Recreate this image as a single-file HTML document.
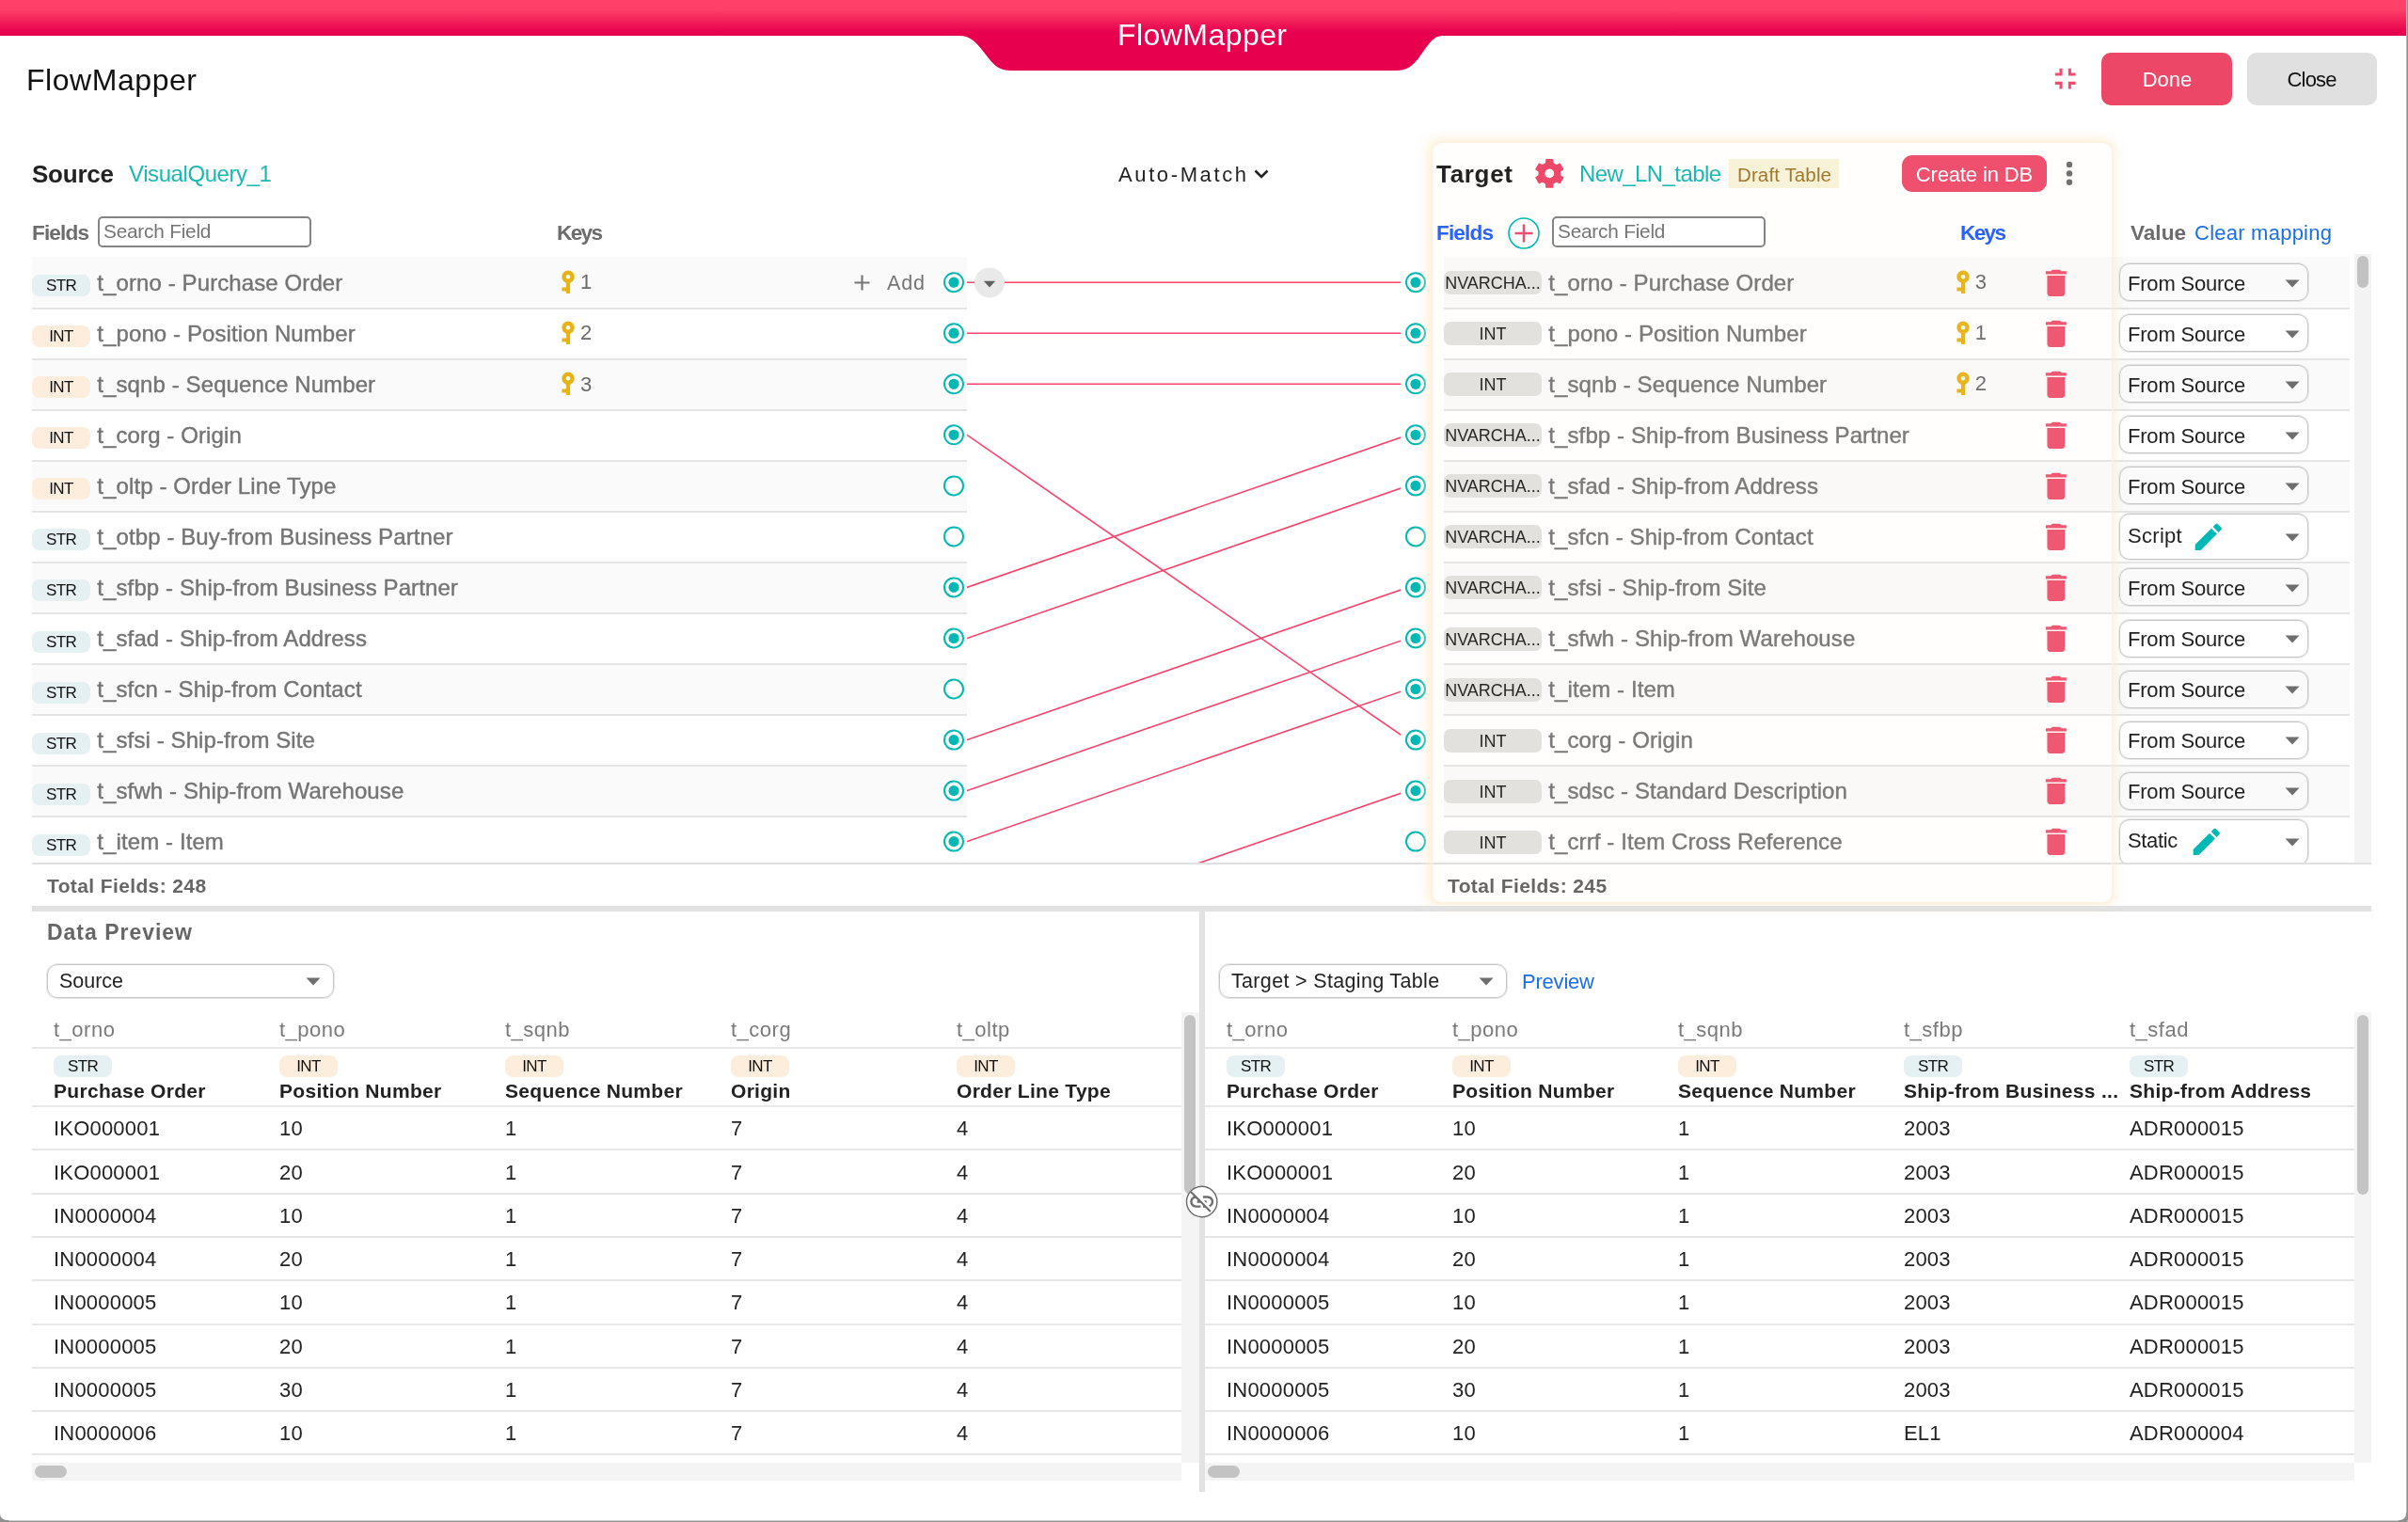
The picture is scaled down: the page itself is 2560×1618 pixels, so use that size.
<!DOCTYPE html>
<html lang="en"><head><meta charset="utf-8"><title>FlowMapper</title>
<style>
html,body{margin:0;padding:0;background:#fff;}
body{width:2560px;height:1618px;position:relative;overflow:hidden;font-family:"Liberation Sans",Arial,sans-serif;color:#222;}
div,svg,span{position:absolute;white-space:nowrap;box-sizing:border-box;}
.bg{font-size:17px;line-height:23px;height:23px;border-radius:8px;text-align:center;color:#111;letter-spacing:-.6px;}
.str{background:#e4f0f2;}
.int{background:#fdeddd;}
.tb{background:#e2e1e0;font-size:18px;line-height:27.5px;height:25px;width:104px;border-radius:7px;text-align:center;color:#1a1a1a;}
.fn{font-size:24px;line-height:32px;color:#747474;letter-spacing:.1px;-webkit-text-stroke:.4px #747474;}
.kn{font-size:22px;line-height:28px;color:#6a6a6a;}
.sel{border:1px solid #c6c6c6;border-radius:11px;box-shadow:0 0 0 1px rgba(190,190,190,.35);}
.sv{font-size:22px;line-height:28px;color:#222;letter-spacing:-.2px;}
.th{font-size:22px;line-height:28px;color:#7a7a7a;letter-spacing:.5px;}
.tn{font-size:21px;line-height:28px;color:#222;font-weight:700;letter-spacing:.3px;}
.td{font-size:22px;line-height:28px;color:#222;letter-spacing:.2px;}
.hl{height:2px;background:#e6e6e6;}
</style></head><body>
<div id="app" style="left:0;top:0;width:2560px;height:1618px;will-change:transform;">

<div style="left:0px;top:0px;width:2560px;height:38px;background:linear-gradient(#ff4068 0,#ff4068 26%,#e6004d 91%,#e6004d 100%);"></div>
<svg style="left:1000px;top:36px" width="560" height="40" viewBox="1000 36 560 40"><path fill="#e6004d" d="M1012,36 L1012,38 L1019,38 C1033,38 1038,46 1044,53 L1051,62 C1057,69 1062,75 1075,75 L1484,75 C1497,75 1502,69 1508,62 L1515,52 C1520,45 1525,38 1534,38 L1545,38 L1545,36 Z"/></svg>
<div style="left:1188.0px;top:15.8px;font-size:32px;line-height:42px;color:#fff;letter-spacing:0.44px;">FlowMapper</div>
<div style="left:28.0px;top:64.0px;font-size:32px;line-height:42px;color:#111;letter-spacing:0.55px;">FlowMapper</div>
<svg style="left:2177px;top:65.3px" width="37.4" height="37.4" viewBox="0 0 24 24"><path fill="#ef4f6d" d="M5 16h3v3h2v-5H5v2zm3-8H5v2h5V5H8v3zm6 11h2v-3h3v-2h-5v5zm2-11V5h-2v5h5V8h-3z"/></svg>
<div style="left:2234px;top:56px;width:139px;height:56px;background:#ec4767;border-radius:10px;"></div>
<div style="left:2277.7px;top:70.4px;font-size:22px;line-height:29px;color:#fff;letter-spacing:-0.03px;">Done</div>
<div style="left:2389px;top:56px;width:138px;height:56px;background:#e0e0e0;border-radius:10px;"></div>
<div style="left:2431.5px;top:70.4px;font-size:22px;line-height:29px;color:#111;letter-spacing:-0.81px;">Close</div>
<div style="left:34.0px;top:167.9px;font-size:26px;line-height:34px;color:#222;font-weight:700;letter-spacing:-0.23px;">Source</div>
<div style="left:137.0px;top:169.0px;font-size:24px;line-height:31px;color:#1bb7b5;letter-spacing:-0.42px;">VisualQuery_1</div>
<div style="left:34.0px;top:232.7px;font-size:22.6px;line-height:29px;color:#6c6c6c;font-weight:700;letter-spacing:-0.86px;">Fields</div>
<div style="left:104px;top:230px;width:227px;height:33px;background:#fff;border:2px solid #848484;border-radius:5px;"></div>
<div style="left:110.0px;top:232.4px;font-size:20.8px;line-height:27px;color:#757575;letter-spacing:-0.21px;">Search Field</div>
<div style="left:592.0px;top:232.7px;font-size:22.6px;line-height:29px;color:#6c6c6c;font-weight:700;letter-spacing:-1.68px;">Keys</div>
<div style="left:1189.0px;top:171.2px;font-size:22px;line-height:29px;color:#222;letter-spacing:2.61px;">Auto-Match</div>
<svg style="left:1331px;top:176px" width="20" height="18" viewBox="0 0 20 18"><path d="M3.5,5.5 L10,12 L16.5,5.5" fill="none" stroke="#222" stroke-width="2.6"/></svg>
<div id="srclist" style="left:34px;top:273px;width:994px;height:644px;overflow:hidden;">
<div style="left:0px;top:0px;width:994px;height:54px;background:#fafafa;"></div>
<div style="left:0px;top:54px;width:994px;height:2px;background:#e5e5e5;"></div>
<div style="left:0px;top:56px;width:994px;height:52px;background:#fff;"></div>
<div style="left:0px;top:108px;width:994px;height:2px;background:#e5e5e5;"></div>
<div style="left:0px;top:110px;width:994px;height:52px;background:#fafafa;"></div>
<div style="left:0px;top:162px;width:994px;height:2px;background:#e5e5e5;"></div>
<div style="left:0px;top:164px;width:994px;height:52px;background:#fff;"></div>
<div style="left:0px;top:216px;width:994px;height:2px;background:#e5e5e5;"></div>
<div style="left:0px;top:218px;width:994px;height:52px;background:#fafafa;"></div>
<div style="left:0px;top:270px;width:994px;height:2px;background:#e5e5e5;"></div>
<div style="left:0px;top:272px;width:994px;height:52px;background:#fff;"></div>
<div style="left:0px;top:324px;width:994px;height:2px;background:#e5e5e5;"></div>
<div style="left:0px;top:326px;width:994px;height:52px;background:#fafafa;"></div>
<div style="left:0px;top:378px;width:994px;height:2px;background:#e5e5e5;"></div>
<div style="left:0px;top:380px;width:994px;height:52px;background:#fff;"></div>
<div style="left:0px;top:432px;width:994px;height:2px;background:#e5e5e5;"></div>
<div style="left:0px;top:434px;width:994px;height:52px;background:#fafafa;"></div>
<div style="left:0px;top:486px;width:994px;height:2px;background:#e5e5e5;"></div>
<div style="left:0px;top:488px;width:994px;height:52px;background:#fff;"></div>
<div style="left:0px;top:540px;width:994px;height:2px;background:#e5e5e5;"></div>
<div style="left:0px;top:542px;width:994px;height:52px;background:#fafafa;"></div>
<div style="left:0px;top:594px;width:994px;height:2px;background:#e5e5e5;"></div>
<div style="left:0px;top:596px;width:994px;height:52px;background:#fff;"></div>
<div style="left:0px;top:648px;width:994px;height:2px;background:#e5e5e5;"></div>
</div>
<div class="bg str" style="left:34px;top:292.2px;width:62px;">STR</div>
<div class="fn" style="left:103.3px;top:284.6px;">t_orno - Purchase Order</div>
<svg style="left:595.7px;top:286.3px" width="16" height="28" viewBox="0 0 16 28"><circle cx="8" cy="8.2" r="4.5" fill="none" stroke="#e6b417" stroke-width="4.4"/><path fill="#e6b417" d="M5.9,13 h4.2 v13 h-4.2 v-2.4 h-4.5 v-4.1 h4.5 z"/></svg>
<div style="left:617.0px;top:285.4px;font-size:22px;line-height:29px;color:#6a6a6a;">1</div>
<div class="bg int" style="left:34px;top:346.2px;width:62px;">INT</div>
<div class="fn" style="left:103.3px;top:338.6px;">t_pono - Position Number</div>
<svg style="left:595.7px;top:340.3px" width="16" height="28" viewBox="0 0 16 28"><circle cx="8" cy="8.2" r="4.5" fill="none" stroke="#e6b417" stroke-width="4.4"/><path fill="#e6b417" d="M5.9,13 h4.2 v13 h-4.2 v-2.4 h-4.5 v-4.1 h4.5 z"/></svg>
<div style="left:617.0px;top:339.4px;font-size:22px;line-height:29px;color:#6a6a6a;">2</div>
<div class="bg int" style="left:34px;top:400.3px;width:62px;">INT</div>
<div class="fn" style="left:103.3px;top:392.7px;">t_sqnb - Sequence Number</div>
<svg style="left:595.7px;top:394.4px" width="16" height="28" viewBox="0 0 16 28"><circle cx="8" cy="8.2" r="4.5" fill="none" stroke="#e6b417" stroke-width="4.4"/><path fill="#e6b417" d="M5.9,13 h4.2 v13 h-4.2 v-2.4 h-4.5 v-4.1 h4.5 z"/></svg>
<div style="left:617.0px;top:393.5px;font-size:22px;line-height:29px;color:#6a6a6a;">3</div>
<div class="bg int" style="left:34px;top:454.3px;width:62px;">INT</div>
<div class="fn" style="left:103.3px;top:446.7px;">t_corg - Origin</div>
<div class="bg int" style="left:34px;top:508.4px;width:62px;">INT</div>
<div class="fn" style="left:103.3px;top:500.8px;">t_oltp - Order Line Type</div>
<div class="bg str" style="left:34px;top:562.4px;width:62px;">STR</div>
<div class="fn" style="left:103.3px;top:554.8px;">t_otbp - Buy-from Business Partner</div>
<div class="bg str" style="left:34px;top:616.4px;width:62px;">STR</div>
<div class="fn" style="left:103.3px;top:608.8px;">t_sfbp - Ship-from Business Partner</div>
<div class="bg str" style="left:34px;top:670.5px;width:62px;">STR</div>
<div class="fn" style="left:103.3px;top:662.9px;">t_sfad - Ship-from Address</div>
<div class="bg str" style="left:34px;top:724.5px;width:62px;">STR</div>
<div class="fn" style="left:103.3px;top:716.9px;">t_sfcn - Ship-from Contact</div>
<div class="bg str" style="left:34px;top:778.6px;width:62px;">STR</div>
<div class="fn" style="left:103.3px;top:771.0px;">t_sfsi - Ship-from Site</div>
<div class="bg str" style="left:34px;top:832.6px;width:62px;">STR</div>
<div class="fn" style="left:103.3px;top:825.0px;">t_sfwh - Ship-from Warehouse</div>
<div class="bg str" style="left:34px;top:886.6px;width:62px;">STR</div>
<div class="fn" style="left:103.3px;top:879.0px;">t_item - Item</div>
<svg style="left:907px;top:291px" width="19" height="19" viewBox="0 0 19 19"><path d="M9.5,1.5 V17.5 M1.5,9.5 H17.5" stroke="#757575" stroke-width="2.1"/></svg>
<div style="left:943.0px;top:286.8px;font-size:21.5px;line-height:28px;color:#757575;letter-spacing:0.87px;">Add</div>
<div id="tgtlist" style="left:1535px;top:273px;width:963px;height:644px;overflow:hidden;">
<div style="left:0px;top:0px;width:963px;height:54px;background:#fafafa;"></div>
<div style="left:0px;top:54px;width:963px;height:2px;background:#e5e5e5;"></div>
<div style="left:0px;top:56px;width:963px;height:52px;background:#fff;"></div>
<div style="left:0px;top:108px;width:963px;height:2px;background:#e5e5e5;"></div>
<div style="left:0px;top:110px;width:963px;height:52px;background:#fafafa;"></div>
<div style="left:0px;top:162px;width:963px;height:2px;background:#e5e5e5;"></div>
<div style="left:0px;top:164px;width:963px;height:52px;background:#fff;"></div>
<div style="left:0px;top:216px;width:963px;height:2px;background:#e5e5e5;"></div>
<div style="left:0px;top:218px;width:963px;height:52px;background:#fafafa;"></div>
<div style="left:0px;top:270px;width:963px;height:2px;background:#e5e5e5;"></div>
<div style="left:0px;top:272px;width:963px;height:52px;background:#fff;"></div>
<div style="left:0px;top:324px;width:963px;height:2px;background:#e5e5e5;"></div>
<div style="left:0px;top:326px;width:963px;height:52px;background:#fafafa;"></div>
<div style="left:0px;top:378px;width:963px;height:2px;background:#e5e5e5;"></div>
<div style="left:0px;top:380px;width:963px;height:52px;background:#fff;"></div>
<div style="left:0px;top:432px;width:963px;height:2px;background:#e5e5e5;"></div>
<div style="left:0px;top:434px;width:963px;height:52px;background:#fafafa;"></div>
<div style="left:0px;top:486px;width:963px;height:2px;background:#e5e5e5;"></div>
<div style="left:0px;top:488px;width:963px;height:52px;background:#fff;"></div>
<div style="left:0px;top:540px;width:963px;height:2px;background:#e5e5e5;"></div>
<div style="left:0px;top:542px;width:963px;height:52px;background:#fafafa;"></div>
<div style="left:0px;top:594px;width:963px;height:2px;background:#e5e5e5;"></div>
<div style="left:0px;top:596px;width:963px;height:52px;background:#fff;"></div>
<div style="left:0px;top:648px;width:963px;height:2px;background:#e5e5e5;"></div>
</div>
<div style="left:34px;top:917px;width:2487px;height:2px;background:#e0e0e0;"></div>
<div style="left:2503px;top:270px;width:18px;height:647px;background:#f3f3f3;"></div>
<div style="left:2506px;top:272px;width:12px;height:34px;background:#c2c2c2;border-radius:6px;"></div>
<div id="tgtclip" style="left:1490px;top:270px;width:1013px;height:647px;overflow:hidden;">
<div class="tb" style="left:45px;top:18.2px;">NVARCHA...</div>
<div class="fn" style="left:156.29999999999995px;top:14.6px;">t_orno - Purchase Order</div>
<svg style="left:589.3px;top:16.3px" width="16" height="28" viewBox="0 0 16 28"><circle cx="8" cy="8.2" r="4.5" fill="none" stroke="#e6b417" stroke-width="4.4"/><path fill="#e6b417" d="M5.9,13 h4.2 v13 h-4.2 v-2.4 h-4.5 v-4.1 h4.5 z"/></svg>
<div class="kn" style="left:609.8000000000002px;top:15.8px;">3</div>
<svg style="left:677px;top:11.5px" width="37.7" height="37.7" viewBox="0 0 24 24"><path fill="#f0506e" d="M6 19c0 1.1.9 2 2 2h8c1.1 0 2-.9 2-2V7H6v12zM19 4h-3.5l-1-1h-5l-1 1H5v2h14V4z"/></svg>
<div class="sel" style="left:763px;top:10.2px;width:201px;height:40px;"></div>
<div class="sv" style="left:772px;top:17.8px;">From Source</div>
<svg style="left:939px;top:26.5px" width="16" height="9" viewBox="0 0 16 9"><path fill="#6e6e6e" d="M0.5,0.5 H15.5 L8,8.5 Z"/></svg>
<div class="tb" style="left:45px;top:72.2px;">INT</div>
<div class="fn" style="left:156.29999999999995px;top:68.6px;">t_pono - Position Number</div>
<svg style="left:589.3px;top:70.3px" width="16" height="28" viewBox="0 0 16 28"><circle cx="8" cy="8.2" r="4.5" fill="none" stroke="#e6b417" stroke-width="4.4"/><path fill="#e6b417" d="M5.9,13 h4.2 v13 h-4.2 v-2.4 h-4.5 v-4.1 h4.5 z"/></svg>
<div class="kn" style="left:609.8000000000002px;top:69.8px;">1</div>
<svg style="left:677px;top:65.5px" width="37.7" height="37.7" viewBox="0 0 24 24"><path fill="#f0506e" d="M6 19c0 1.1.9 2 2 2h8c1.1 0 2-.9 2-2V7H6v12zM19 4h-3.5l-1-1h-5l-1 1H5v2h14V4z"/></svg>
<div class="sel" style="left:763px;top:64.2px;width:201px;height:40px;"></div>
<div class="sv" style="left:772px;top:71.8px;">From Source</div>
<svg style="left:939px;top:80.5px" width="16" height="9" viewBox="0 0 16 9"><path fill="#6e6e6e" d="M0.5,0.5 H15.5 L8,8.5 Z"/></svg>
<div class="tb" style="left:45px;top:126.3px;">INT</div>
<div class="fn" style="left:156.29999999999995px;top:122.7px;">t_sqnb - Sequence Number</div>
<svg style="left:589.3px;top:124.4px" width="16" height="28" viewBox="0 0 16 28"><circle cx="8" cy="8.2" r="4.5" fill="none" stroke="#e6b417" stroke-width="4.4"/><path fill="#e6b417" d="M5.9,13 h4.2 v13 h-4.2 v-2.4 h-4.5 v-4.1 h4.5 z"/></svg>
<div class="kn" style="left:609.8000000000002px;top:123.9px;">2</div>
<svg style="left:677px;top:119.6px" width="37.7" height="37.7" viewBox="0 0 24 24"><path fill="#f0506e" d="M6 19c0 1.1.9 2 2 2h8c1.1 0 2-.9 2-2V7H6v12zM19 4h-3.5l-1-1h-5l-1 1H5v2h14V4z"/></svg>
<div class="sel" style="left:763px;top:118.3px;width:201px;height:40px;"></div>
<div class="sv" style="left:772px;top:125.9px;">From Source</div>
<svg style="left:939px;top:134.6px" width="16" height="9" viewBox="0 0 16 9"><path fill="#6e6e6e" d="M0.5,0.5 H15.5 L8,8.5 Z"/></svg>
<div class="tb" style="left:45px;top:180.3px;">NVARCHA...</div>
<div class="fn" style="left:156.29999999999995px;top:176.7px;">t_sfbp - Ship-from Business Partner</div>
<svg style="left:677px;top:173.6px" width="37.7" height="37.7" viewBox="0 0 24 24"><path fill="#f0506e" d="M6 19c0 1.1.9 2 2 2h8c1.1 0 2-.9 2-2V7H6v12zM19 4h-3.5l-1-1h-5l-1 1H5v2h14V4z"/></svg>
<div class="sel" style="left:763px;top:172.3px;width:201px;height:40px;"></div>
<div class="sv" style="left:772px;top:179.9px;">From Source</div>
<svg style="left:939px;top:188.6px" width="16" height="9" viewBox="0 0 16 9"><path fill="#6e6e6e" d="M0.5,0.5 H15.5 L8,8.5 Z"/></svg>
<div class="tb" style="left:45px;top:234.4px;">NVARCHA...</div>
<div class="fn" style="left:156.29999999999995px;top:230.8px;">t_sfad - Ship-from Address</div>
<svg style="left:677px;top:227.7px" width="37.7" height="37.7" viewBox="0 0 24 24"><path fill="#f0506e" d="M6 19c0 1.1.9 2 2 2h8c1.1 0 2-.9 2-2V7H6v12zM19 4h-3.5l-1-1h-5l-1 1H5v2h14V4z"/></svg>
<div class="sel" style="left:763px;top:226.4px;width:201px;height:40px;"></div>
<div class="sv" style="left:772px;top:234.0px;">From Source</div>
<svg style="left:939px;top:242.7px" width="16" height="9" viewBox="0 0 16 9"><path fill="#6e6e6e" d="M0.5,0.5 H15.5 L8,8.5 Z"/></svg>
<div class="tb" style="left:45px;top:288.4px;">NVARCHA...</div>
<div class="fn" style="left:156.29999999999995px;top:284.8px;">t_sfcn - Ship-from Contact</div>
<svg style="left:677px;top:281.7px" width="37.7" height="37.7" viewBox="0 0 24 24"><path fill="#f0506e" d="M6 19c0 1.1.9 2 2 2h8c1.1 0 2-.9 2-2V7H6v12zM19 4h-3.5l-1-1h-5l-1 1H5v2h14V4z"/></svg>
<div class="sel" style="left:763px;top:276.4px;width:201px;height:49px;"></div>
<div class="sv" style="left:772px;top:285.9px;letter-spacing:.3px;">Script</div>
<svg style="left:839px;top:282.2px" width="37.6" height="37.6" viewBox="0 0 24 24"><path fill="#00b9b4" d="M3 17.25V21h3.75L17.81 9.94l-3.75-3.75L3 17.25zM20.71 7.04c.39-.39.39-1.02 0-1.41l-2.34-2.34c-.39-.39-1.02-.39-1.41 0l-1.83 1.83 3.75 3.75 1.83-1.83z"/></svg>
<svg style="left:939px;top:296.7px" width="16" height="9" viewBox="0 0 16 9"><path fill="#6e6e6e" d="M0.5,0.5 H15.5 L8,8.5 Z"/></svg>
<div class="tb" style="left:45px;top:342.4px;">NVARCHA...</div>
<div class="fn" style="left:156.29999999999995px;top:338.8px;">t_sfsi - Ship-from Site</div>
<svg style="left:677px;top:335.7px" width="37.7" height="37.7" viewBox="0 0 24 24"><path fill="#f0506e" d="M6 19c0 1.1.9 2 2 2h8c1.1 0 2-.9 2-2V7H6v12zM19 4h-3.5l-1-1h-5l-1 1H5v2h14V4z"/></svg>
<div class="sel" style="left:763px;top:334.4px;width:201px;height:40px;"></div>
<div class="sv" style="left:772px;top:342.0px;">From Source</div>
<svg style="left:939px;top:350.7px" width="16" height="9" viewBox="0 0 16 9"><path fill="#6e6e6e" d="M0.5,0.5 H15.5 L8,8.5 Z"/></svg>
<div class="tb" style="left:45px;top:396.5px;">NVARCHA...</div>
<div class="fn" style="left:156.29999999999995px;top:392.9px;">t_sfwh - Ship-from Warehouse</div>
<svg style="left:677px;top:389.8px" width="37.7" height="37.7" viewBox="0 0 24 24"><path fill="#f0506e" d="M6 19c0 1.1.9 2 2 2h8c1.1 0 2-.9 2-2V7H6v12zM19 4h-3.5l-1-1h-5l-1 1H5v2h14V4z"/></svg>
<div class="sel" style="left:763px;top:388.5px;width:201px;height:40px;"></div>
<div class="sv" style="left:772px;top:396.1px;">From Source</div>
<svg style="left:939px;top:404.8px" width="16" height="9" viewBox="0 0 16 9"><path fill="#6e6e6e" d="M0.5,0.5 H15.5 L8,8.5 Z"/></svg>
<div class="tb" style="left:45px;top:450.5px;">NVARCHA...</div>
<div class="fn" style="left:156.29999999999995px;top:446.9px;">t_item - Item</div>
<svg style="left:677px;top:443.8px" width="37.7" height="37.7" viewBox="0 0 24 24"><path fill="#f0506e" d="M6 19c0 1.1.9 2 2 2h8c1.1 0 2-.9 2-2V7H6v12zM19 4h-3.5l-1-1h-5l-1 1H5v2h14V4z"/></svg>
<div class="sel" style="left:763px;top:442.5px;width:201px;height:40px;"></div>
<div class="sv" style="left:772px;top:450.1px;">From Source</div>
<svg style="left:939px;top:458.8px" width="16" height="9" viewBox="0 0 16 9"><path fill="#6e6e6e" d="M0.5,0.5 H15.5 L8,8.5 Z"/></svg>
<div class="tb" style="left:45px;top:504.6px;">INT</div>
<div class="fn" style="left:156.29999999999995px;top:501.0px;">t_corg - Origin</div>
<svg style="left:677px;top:497.9px" width="37.7" height="37.7" viewBox="0 0 24 24"><path fill="#f0506e" d="M6 19c0 1.1.9 2 2 2h8c1.1 0 2-.9 2-2V7H6v12zM19 4h-3.5l-1-1h-5l-1 1H5v2h14V4z"/></svg>
<div class="sel" style="left:763px;top:496.6px;width:201px;height:40px;"></div>
<div class="sv" style="left:772px;top:504.2px;">From Source</div>
<svg style="left:939px;top:512.9px" width="16" height="9" viewBox="0 0 16 9"><path fill="#6e6e6e" d="M0.5,0.5 H15.5 L8,8.5 Z"/></svg>
<div class="tb" style="left:45px;top:558.6px;">INT</div>
<div class="fn" style="left:156.29999999999995px;top:555.0px;">t_sdsc - Standard Description</div>
<svg style="left:677px;top:551.9px" width="37.7" height="37.7" viewBox="0 0 24 24"><path fill="#f0506e" d="M6 19c0 1.1.9 2 2 2h8c1.1 0 2-.9 2-2V7H6v12zM19 4h-3.5l-1-1h-5l-1 1H5v2h14V4z"/></svg>
<div class="sel" style="left:763px;top:550.6px;width:201px;height:40px;"></div>
<div class="sv" style="left:772px;top:558.2px;">From Source</div>
<svg style="left:939px;top:566.9px" width="16" height="9" viewBox="0 0 16 9"><path fill="#6e6e6e" d="M0.5,0.5 H15.5 L8,8.5 Z"/></svg>
<div class="tb" style="left:45px;top:612.6px;">INT</div>
<div class="fn" style="left:156.29999999999995px;top:609.0px;">t_crrf - Item Cross Reference</div>
<svg style="left:677px;top:605.9px" width="37.7" height="37.7" viewBox="0 0 24 24"><path fill="#f0506e" d="M6 19c0 1.1.9 2 2 2h8c1.1 0 2-.9 2-2V7H6v12zM19 4h-3.5l-1-1h-5l-1 1H5v2h14V4z"/></svg>
<div class="sel" style="left:763px;top:600.6px;width:201px;height:49px;"></div>
<div class="sv" style="left:772px;top:610.1px;letter-spacing:-.35px;">Static</div>
<svg style="left:837px;top:606.4px" width="37.6" height="37.6" viewBox="0 0 24 24"><path fill="#00b9b4" d="M3 17.25V21h3.75L17.81 9.94l-3.75-3.75L3 17.25zM20.71 7.04c.39-.39.39-1.02 0-1.41l-2.34-2.34c-.39-.39-1.02-.39-1.41 0l-1.83 1.83 3.75 3.75 1.83-1.83z"/></svg>
<svg style="left:939px;top:620.9px" width="16" height="9" viewBox="0 0 16 9"><path fill="#6e6e6e" d="M0.5,0.5 H15.5 L8,8.5 Z"/></svg>
</div>
<svg style="left:0;top:0" width="2560" height="1618" viewBox="0 0 2560 1618">
<defs><clipPath id="lc"><rect x="1028" y="270" width="461" height="647"/></clipPath></defs>
<g clip-path="url(#lc)" stroke="#fb426b" stroke-width="1.6" fill="none">
<path d="M1028,300.2 L1497,300.2"/>
<path d="M1028,354.2 L1497,354.2"/>
<path d="M1028,408.3 L1497,408.3"/>
<path d="M1028,462.3 L1497,786.6"/>
<path d="M1028,624.4 L1497,462.3"/>
<path d="M1028,678.5 L1497,516.4"/>
<path d="M1028,786.6 L1497,624.4"/>
<path d="M1028,840.6 L1497,678.5"/>
<path d="M1028,894.6 L1497,732.5"/>
<path d="M1028,1002.7 L1497,840.6"/>
</g>
<circle cx="1052" cy="300.5" r="16" fill="#e9e9e9"/><path d="M1045.8,298.8 H1058.2 L1052,305.4 Z" fill="#616161"/>
<circle cx="1014" cy="300.2" r="10" fill="#fff" stroke="#00b9b4" stroke-width="2"/>
<circle cx="1014" cy="300.2" r="5.6" fill="#00b9b4"/>
<circle cx="1014" cy="354.2" r="10" fill="#fff" stroke="#00b9b4" stroke-width="2"/>
<circle cx="1014" cy="354.2" r="5.6" fill="#00b9b4"/>
<circle cx="1014" cy="408.3" r="10" fill="#fff" stroke="#00b9b4" stroke-width="2"/>
<circle cx="1014" cy="408.3" r="5.6" fill="#00b9b4"/>
<circle cx="1014" cy="462.3" r="10" fill="#fff" stroke="#00b9b4" stroke-width="2"/>
<circle cx="1014" cy="462.3" r="5.6" fill="#00b9b4"/>
<circle cx="1014" cy="516.4" r="10" fill="#fff" stroke="#00b9b4" stroke-width="2"/>
<circle cx="1014" cy="570.4" r="10" fill="#fff" stroke="#00b9b4" stroke-width="2"/>
<circle cx="1014" cy="624.4" r="10" fill="#fff" stroke="#00b9b4" stroke-width="2"/>
<circle cx="1014" cy="624.4" r="5.6" fill="#00b9b4"/>
<circle cx="1014" cy="678.5" r="10" fill="#fff" stroke="#00b9b4" stroke-width="2"/>
<circle cx="1014" cy="678.5" r="5.6" fill="#00b9b4"/>
<circle cx="1014" cy="732.5" r="10" fill="#fff" stroke="#00b9b4" stroke-width="2"/>
<circle cx="1014" cy="786.6" r="10" fill="#fff" stroke="#00b9b4" stroke-width="2"/>
<circle cx="1014" cy="786.6" r="5.6" fill="#00b9b4"/>
<circle cx="1014" cy="840.6" r="10" fill="#fff" stroke="#00b9b4" stroke-width="2"/>
<circle cx="1014" cy="840.6" r="5.6" fill="#00b9b4"/>
<circle cx="1014" cy="894.6" r="10" fill="#fff" stroke="#00b9b4" stroke-width="2"/>
<circle cx="1014" cy="894.6" r="5.6" fill="#00b9b4"/>
<circle cx="1505" cy="300.2" r="10" fill="#fff" stroke="#00b9b4" stroke-width="2"/>
<circle cx="1505" cy="300.2" r="5.6" fill="#00b9b4"/>
<circle cx="1505" cy="354.2" r="10" fill="#fff" stroke="#00b9b4" stroke-width="2"/>
<circle cx="1505" cy="354.2" r="5.6" fill="#00b9b4"/>
<circle cx="1505" cy="408.3" r="10" fill="#fff" stroke="#00b9b4" stroke-width="2"/>
<circle cx="1505" cy="408.3" r="5.6" fill="#00b9b4"/>
<circle cx="1505" cy="462.3" r="10" fill="#fff" stroke="#00b9b4" stroke-width="2"/>
<circle cx="1505" cy="462.3" r="5.6" fill="#00b9b4"/>
<circle cx="1505" cy="516.4" r="10" fill="#fff" stroke="#00b9b4" stroke-width="2"/>
<circle cx="1505" cy="516.4" r="5.6" fill="#00b9b4"/>
<circle cx="1505" cy="570.4" r="10" fill="#fff" stroke="#00b9b4" stroke-width="2"/>
<circle cx="1505" cy="624.4" r="10" fill="#fff" stroke="#00b9b4" stroke-width="2"/>
<circle cx="1505" cy="624.4" r="5.6" fill="#00b9b4"/>
<circle cx="1505" cy="678.5" r="10" fill="#fff" stroke="#00b9b4" stroke-width="2"/>
<circle cx="1505" cy="678.5" r="5.6" fill="#00b9b4"/>
<circle cx="1505" cy="732.5" r="10" fill="#fff" stroke="#00b9b4" stroke-width="2"/>
<circle cx="1505" cy="732.5" r="5.6" fill="#00b9b4"/>
<circle cx="1505" cy="786.6" r="10" fill="#fff" stroke="#00b9b4" stroke-width="2"/>
<circle cx="1505" cy="786.6" r="5.6" fill="#00b9b4"/>
<circle cx="1505" cy="840.6" r="10" fill="#fff" stroke="#00b9b4" stroke-width="2"/>
<circle cx="1505" cy="840.6" r="5.6" fill="#00b9b4"/>
<circle cx="1505" cy="894.6" r="10" fill="#fff" stroke="#00b9b4" stroke-width="2"/>
</svg>
<div style="left:1523px;top:152px;width:722px;height:807px;border-radius:9px;background:rgba(255,236,200,.05);box-shadow:0 0 0 2px rgba(254,240,218,.55),0 0 10px 6px rgba(254,236,205,.5),-7px 0 12px 2px rgba(254,236,205,.25);"></div>
<div style="left:1527.0px;top:167.9px;font-size:26px;line-height:34px;color:#222;font-weight:700;letter-spacing:0.69px;">Target</div>
<svg style="left:1627px;top:164px" width="40" height="40" viewBox="1627 164 40 40"><path fill="#ee4868" fill-rule="evenodd" stroke="#ee4868" stroke-width="1.2" stroke-linejoin="round" d="M1643.6,173.6 L1643.9,169.7 L1650.7,169.7 L1651.0,173.6 L1654.8,175.8 L1658.3,174.1 L1661.8,180.0 L1658.5,182.2 L1658.5,186.6 L1661.8,188.8 L1658.3,194.7 L1654.8,193.0 L1651.0,195.2 L1650.7,199.1 L1643.9,199.1 L1643.6,195.2 L1639.8,193.0 L1636.3,194.7 L1632.8,188.8 L1636.1,186.6 L1636.1,182.2 L1632.8,180.0 L1636.3,174.1 L1639.8,175.8 Z M1641.8,184.4 a5.5,5.5 0 1,0 11.0,0 a5.5,5.5 0 1,0 -11.0,0 Z"/></svg>
<div style="left:1679.0px;top:169.0px;font-size:24px;line-height:31px;color:#1bb7b5;letter-spacing:-0.58px;">New_LN_table</div>
<div style="left:1838px;top:169px;width:117px;height:31px;background:#f8f2d8;"></div>
<div style="left:1847.0px;top:171.5px;font-size:20.5px;line-height:27px;color:#a0782e;letter-spacing:0.12px;">Draft Table</div>
<div style="left:2022px;top:165px;width:154px;height:39px;background:#ef506e;border-radius:11px;"></div>
<div style="left:2036.7px;top:170.8px;font-size:22px;line-height:29px;color:#fff;letter-spacing:-0.13px;">Create in DB</div>
<svg style="left:2194px;top:169px" width="12" height="30" viewBox="0 0 12 30"><circle cx="6" cy="5.9" r="3.2" fill="#707070"/><circle cx="6" cy="15.4" r="3.2" fill="#707070"/><circle cx="6" cy="24.8" r="3.2" fill="#707070"/></svg>
<div style="left:1527.0px;top:232.7px;font-size:22.6px;line-height:29px;color:#2a63f6;font-weight:700;letter-spacing:-0.86px;">Fields</div>
<svg style="left:1601.8px;top:230px" width="36" height="36" viewBox="0 0 36 36"><circle cx="18" cy="18" r="16" fill="#fff" stroke="#00b9b4" stroke-width="1.6"/><path d="M18,8.5 V27.5 M8.5,18 H27.5" stroke="#ef4f6d" stroke-width="2.5"/></svg>
<div style="left:1650px;top:230px;width:227px;height:33px;background:#fff;border:2px solid #848484;border-radius:5px;"></div>
<div style="left:1656.0px;top:232.4px;font-size:20.8px;line-height:27px;color:#757575;letter-spacing:-0.21px;">Search Field</div>
<div style="left:2084.0px;top:232.7px;font-size:22.6px;line-height:29px;color:#2a63f6;font-weight:700;letter-spacing:-1.68px;">Keys</div>
<div style="left:2265.0px;top:232.7px;font-size:22.6px;line-height:29px;color:#6c6c6c;font-weight:700;letter-spacing:-0.01px;">Value</div>
<div style="left:2333.0px;top:232.8px;font-size:22px;line-height:29px;color:#1a6ee6;letter-spacing:0.24px;">Clear mapping</div>
<div style="left:50.0px;top:928.3px;font-size:21px;line-height:27px;color:#666;font-weight:700;letter-spacing:0.38px;">Total Fields: 248</div>
<div style="left:1539.0px;top:928.3px;font-size:21px;line-height:27px;color:#666;font-weight:700;letter-spacing:0.38px;">Total Fields: 245</div>
<div style="left:34px;top:963px;width:2487px;height:6px;background:#e1e1e1;"></div>
<div style="left:1275px;top:969px;width:6px;height:617px;background:#e2e2e2;"></div>
<div style="left:50.0px;top:976.1px;font-size:23px;line-height:30px;color:#666;font-weight:700;letter-spacing:0.98px;">Data Preview</div>
<div style="left:50px;top:1025px;width:305px;height:36px;border:1px solid #c6c6c6;border-radius:11px;box-shadow:0 0 0 1px rgba(190,190,190,.35);"></div>
<div style="left:63.0px;top:1029.2px;font-size:21.5px;line-height:28px;color:#222;letter-spacing:-0.02px;">Source</div>
<svg style="left:325px;top:1038.5px" width="16" height="9" viewBox="0 0 16 9"><path fill="#6e6e6e" d="M0.5,0.5 H15.5 L8,8.5 Z"/></svg>
<div style="left:1296px;top:1025px;width:306px;height:36px;border:1px solid #c6c6c6;border-radius:11px;box-shadow:0 0 0 1px rgba(190,190,190,.35);"></div>
<div style="left:1309.0px;top:1029.2px;font-size:21.5px;line-height:28px;color:#222;letter-spacing:0.33px;">Target &gt; Staging Table</div>
<svg style="left:1572px;top:1038.5px" width="16" height="9" viewBox="0 0 16 9"><path fill="#6e6e6e" d="M0.5,0.5 H15.5 L8,8.5 Z"/></svg>
<div style="left:1618.0px;top:1028.8px;font-size:22px;line-height:29px;color:#1a6ee6;letter-spacing:-0.21px;">Preview</div>
<div class="th" style="left:57px;top:1080.6px;">t_orno</div>
<div class="bg str" style="left:57px;top:1122px;width:62px;">STR</div>
<div class="tn" style="left:57px;top:1146px;">Purchase Order</div>
<div class="th" style="left:297px;top:1080.6px;">t_pono</div>
<div class="bg int" style="left:297px;top:1122px;width:62px;">INT</div>
<div class="tn" style="left:297px;top:1146px;">Position Number</div>
<div class="th" style="left:537px;top:1080.6px;">t_sqnb</div>
<div class="bg int" style="left:537px;top:1122px;width:62px;">INT</div>
<div class="tn" style="left:537px;top:1146px;">Sequence Number</div>
<div class="th" style="left:777px;top:1080.6px;">t_corg</div>
<div class="bg int" style="left:777px;top:1122px;width:62px;">INT</div>
<div class="tn" style="left:777px;top:1146px;">Origin</div>
<div class="th" style="left:1017px;top:1080.6px;">t_oltp</div>
<div class="bg int" style="left:1017px;top:1122px;width:62px;">INT</div>
<div class="tn" style="left:1017px;top:1146px;">Order Line Type</div>
<div class="hl" style="left:34px;top:1113px;width:1222px;"></div>
<div class="hl" style="left:34px;top:1175px;width:1222px;"></div>
<div class="td" style="left:57px;top:1186.2px;">IKO000001</div>
<div class="td" style="left:297px;top:1186.2px;">10</div>
<div class="td" style="left:537px;top:1186.2px;">1</div>
<div class="td" style="left:777px;top:1186.2px;">7</div>
<div class="td" style="left:1017px;top:1186.2px;">4</div>
<div class="hl" style="left:34px;top:1221.3px;width:1222px;"></div>
<div class="td" style="left:57px;top:1232.5px;">IKO000001</div>
<div class="td" style="left:297px;top:1232.5px;">20</div>
<div class="td" style="left:537px;top:1232.5px;">1</div>
<div class="td" style="left:777px;top:1232.5px;">7</div>
<div class="td" style="left:1017px;top:1232.5px;">4</div>
<div class="hl" style="left:34px;top:1267.6px;width:1222px;"></div>
<div class="td" style="left:57px;top:1278.8px;">IN0000004</div>
<div class="td" style="left:297px;top:1278.8px;">10</div>
<div class="td" style="left:537px;top:1278.8px;">1</div>
<div class="td" style="left:777px;top:1278.8px;">7</div>
<div class="td" style="left:1017px;top:1278.8px;">4</div>
<div class="hl" style="left:34px;top:1313.9px;width:1222px;"></div>
<div class="td" style="left:57px;top:1325.1px;">IN0000004</div>
<div class="td" style="left:297px;top:1325.1px;">20</div>
<div class="td" style="left:537px;top:1325.1px;">1</div>
<div class="td" style="left:777px;top:1325.1px;">7</div>
<div class="td" style="left:1017px;top:1325.1px;">4</div>
<div class="hl" style="left:34px;top:1360.2px;width:1222px;"></div>
<div class="td" style="left:57px;top:1371.4px;">IN0000005</div>
<div class="td" style="left:297px;top:1371.4px;">10</div>
<div class="td" style="left:537px;top:1371.4px;">1</div>
<div class="td" style="left:777px;top:1371.4px;">7</div>
<div class="td" style="left:1017px;top:1371.4px;">4</div>
<div class="hl" style="left:34px;top:1406.5px;width:1222px;"></div>
<div class="td" style="left:57px;top:1417.7px;">IN0000005</div>
<div class="td" style="left:297px;top:1417.7px;">20</div>
<div class="td" style="left:537px;top:1417.7px;">1</div>
<div class="td" style="left:777px;top:1417.7px;">7</div>
<div class="td" style="left:1017px;top:1417.7px;">4</div>
<div class="hl" style="left:34px;top:1452.8px;width:1222px;"></div>
<div class="td" style="left:57px;top:1464.0px;">IN0000005</div>
<div class="td" style="left:297px;top:1464.0px;">30</div>
<div class="td" style="left:537px;top:1464.0px;">1</div>
<div class="td" style="left:777px;top:1464.0px;">7</div>
<div class="td" style="left:1017px;top:1464.0px;">4</div>
<div class="hl" style="left:34px;top:1499.1px;width:1222px;"></div>
<div class="td" style="left:57px;top:1510.3px;">IN0000006</div>
<div class="td" style="left:297px;top:1510.3px;">10</div>
<div class="td" style="left:537px;top:1510.3px;">1</div>
<div class="td" style="left:777px;top:1510.3px;">7</div>
<div class="td" style="left:1017px;top:1510.3px;">4</div>
<div class="hl" style="left:34px;top:1545.4px;width:1222px;"></div>
<div class="th" style="left:1304px;top:1080.6px;">t_orno</div>
<div class="bg str" style="left:1304px;top:1122px;width:62px;">STR</div>
<div class="tn" style="left:1304px;top:1146px;">Purchase Order</div>
<div class="th" style="left:1544px;top:1080.6px;">t_pono</div>
<div class="bg int" style="left:1544px;top:1122px;width:62px;">INT</div>
<div class="tn" style="left:1544px;top:1146px;">Position Number</div>
<div class="th" style="left:1784px;top:1080.6px;">t_sqnb</div>
<div class="bg int" style="left:1784px;top:1122px;width:62px;">INT</div>
<div class="tn" style="left:1784px;top:1146px;">Sequence Number</div>
<div class="th" style="left:2024px;top:1080.6px;">t_sfbp</div>
<div class="bg str" style="left:2024px;top:1122px;width:62px;">STR</div>
<div class="tn" style="left:2024px;top:1146px;">Ship-from Business ...</div>
<div class="th" style="left:2264px;top:1080.6px;">t_sfad</div>
<div class="bg str" style="left:2264px;top:1122px;width:62px;">STR</div>
<div class="tn" style="left:2264px;top:1146px;">Ship-from Address</div>
<div class="hl" style="left:1281px;top:1113px;width:1222px;"></div>
<div class="hl" style="left:1281px;top:1175px;width:1222px;"></div>
<div class="td" style="left:1304px;top:1186.2px;">IKO000001</div>
<div class="td" style="left:1544px;top:1186.2px;">10</div>
<div class="td" style="left:1784px;top:1186.2px;">1</div>
<div class="td" style="left:2024px;top:1186.2px;">2003</div>
<div class="td" style="left:2264px;top:1186.2px;">ADR000015</div>
<div class="hl" style="left:1281px;top:1221.3px;width:1222px;"></div>
<div class="td" style="left:1304px;top:1232.5px;">IKO000001</div>
<div class="td" style="left:1544px;top:1232.5px;">20</div>
<div class="td" style="left:1784px;top:1232.5px;">1</div>
<div class="td" style="left:2024px;top:1232.5px;">2003</div>
<div class="td" style="left:2264px;top:1232.5px;">ADR000015</div>
<div class="hl" style="left:1281px;top:1267.6px;width:1222px;"></div>
<div class="td" style="left:1304px;top:1278.8px;">IN0000004</div>
<div class="td" style="left:1544px;top:1278.8px;">10</div>
<div class="td" style="left:1784px;top:1278.8px;">1</div>
<div class="td" style="left:2024px;top:1278.8px;">2003</div>
<div class="td" style="left:2264px;top:1278.8px;">ADR000015</div>
<div class="hl" style="left:1281px;top:1313.9px;width:1222px;"></div>
<div class="td" style="left:1304px;top:1325.1px;">IN0000004</div>
<div class="td" style="left:1544px;top:1325.1px;">20</div>
<div class="td" style="left:1784px;top:1325.1px;">1</div>
<div class="td" style="left:2024px;top:1325.1px;">2003</div>
<div class="td" style="left:2264px;top:1325.1px;">ADR000015</div>
<div class="hl" style="left:1281px;top:1360.2px;width:1222px;"></div>
<div class="td" style="left:1304px;top:1371.4px;">IN0000005</div>
<div class="td" style="left:1544px;top:1371.4px;">10</div>
<div class="td" style="left:1784px;top:1371.4px;">1</div>
<div class="td" style="left:2024px;top:1371.4px;">2003</div>
<div class="td" style="left:2264px;top:1371.4px;">ADR000015</div>
<div class="hl" style="left:1281px;top:1406.5px;width:1222px;"></div>
<div class="td" style="left:1304px;top:1417.7px;">IN0000005</div>
<div class="td" style="left:1544px;top:1417.7px;">20</div>
<div class="td" style="left:1784px;top:1417.7px;">1</div>
<div class="td" style="left:2024px;top:1417.7px;">2003</div>
<div class="td" style="left:2264px;top:1417.7px;">ADR000015</div>
<div class="hl" style="left:1281px;top:1452.8px;width:1222px;"></div>
<div class="td" style="left:1304px;top:1464.0px;">IN0000005</div>
<div class="td" style="left:1544px;top:1464.0px;">30</div>
<div class="td" style="left:1784px;top:1464.0px;">1</div>
<div class="td" style="left:2024px;top:1464.0px;">2003</div>
<div class="td" style="left:2264px;top:1464.0px;">ADR000015</div>
<div class="hl" style="left:1281px;top:1499.1px;width:1222px;"></div>
<div class="td" style="left:1304px;top:1510.3px;">IN0000006</div>
<div class="td" style="left:1544px;top:1510.3px;">10</div>
<div class="td" style="left:1784px;top:1510.3px;">1</div>
<div class="td" style="left:2024px;top:1510.3px;">EL1</div>
<div class="td" style="left:2264px;top:1510.3px;">ADR000004</div>
<div class="hl" style="left:1281px;top:1545.4px;width:1222px;"></div>
<div style="left:1256px;top:1076px;width:19px;height:479px;background:#f4f4f4;"></div>
<div style="left:1259px;top:1079px;width:12px;height:190px;background:#c3c3c3;border-radius:6px;"></div>
<div style="left:2503px;top:1076px;width:18px;height:479px;background:#f4f4f4;"></div>
<div style="left:2506px;top:1079px;width:12px;height:191px;background:#c3c3c3;border-radius:6px;"></div>
<div style="left:34px;top:1555px;width:1222px;height:19px;background:#f4f4f4;"></div>
<div style="left:37px;top:1558px;width:34px;height:13px;background:#c3c3c3;border-radius:7px;"></div>
<div style="left:1281px;top:1555px;width:1222px;height:19px;background:#f4f4f4;"></div>
<div style="left:1284px;top:1558px;width:34px;height:13px;background:#c3c3c3;border-radius:7px;"></div>
<svg style="left:1259px;top:1259px" width="38" height="38" viewBox="0 0 38 38"><circle cx="18.7" cy="18.5" r="16.2" fill="#fff" stroke="#6b6b6b" stroke-width="1.4"/><g transform="translate(3.7,3.5) scale(1.25)"><path fill="#6e6e6e" d="M17 7h-4v1.9h4c1.71 0 3.1 1.39 3.1 3.1 0 1.43-.98 2.63-2.31 2.98l1.46 1.46C20.88 15.61 22 13.95 22 12c0-2.76-2.24-5-5-5zm-1 4h-2.19l2 2H16zM2 4.27l3.11 3.11C3.29 8.12 2 9.91 2 12c0 2.76 2.24 5 5 5h4v-1.9H7c-1.71 0-3.1-1.39-3.1-3.1 0-1.59 1.21-2.9 2.76-3.07L8.73 11H8v2h2.73L13 15.27V17h1.73l4.01 4L20 19.74 3.27 3 2 4.27z"/></g></svg>
<div style="left:2558px;top:0px;width:1px;height:1618px;background:#b4b4b4;"></div>
<div style="left:2559px;top:0px;width:1px;height:1618px;background:#8f8f8f;"></div>
<div style="left:0px;top:1616px;width:2560px;height:1px;background:#cfcfcf;"></div>
<div style="left:0px;top:1617px;width:2560px;height:1px;background:#8f8f8f;"></div>
<div style="left:2550px;top:1608px;width:9px;height:9px;background:#8f8f8f;"></div>
<div style="left:2550px;top:1608px;width:8px;height:8px;background:#fff;border-bottom-right-radius:7px;"></div>
<div style="left:0px;top:1608px;width:9px;height:9px;background:#8f8f8f;"></div>
<div style="left:0px;top:1608px;width:9px;height:8px;background:#fff;border-bottom-left-radius:7px;"></div>
</div>
<script>(function(){try{var w=document.documentElement.clientWidth||window.innerWidth;if(w&&Math.abs(w-2560)>2){document.body.style.zoom=(w/2560);}}catch(e){}})();</script>
</body></html>
